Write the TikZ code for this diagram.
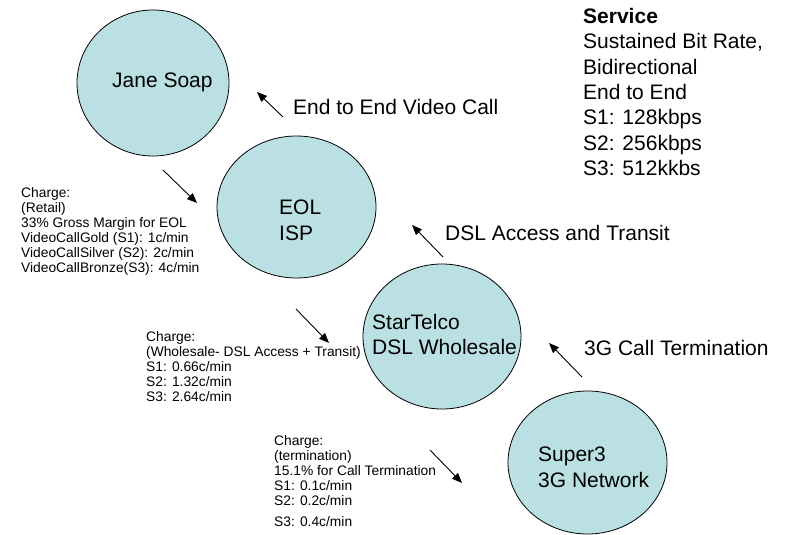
\documentclass[tikz,border=0pt]{standalone}
\usepackage{fontspec}
\setmainfont{Liberation Sans}
\usetikzlibrary{arrows.meta,shapes.geometric}
\definecolor{partyfill}{RGB}{187,224,227}

\tikzset{
  party/.style={ellipse, draw=black, line width=0.8bp, fill=partyfill,
                inner sep=0pt},
  bigtext/.style={anchor=north west, inner sep=0pt, align=left,
                  font=\fontsize{21bp}{25.5bp}\selectfont},
  linetext/.style={anchor=base west, inner sep=0pt,
                   font=\fontsize{21bp}{25.5bp}\selectfont},
  smalltext/.style={anchor=north west, inner sep=0pt, align=left,
                    font=\fontsize{13.8bp}{15bp}\selectfont},
  flow/.style={line width=0.9bp, -{Triangle[length=10bp,width=8bp]}}
}

\begin{document}
\begin{tikzpicture}[x=1bp,y=-1bp]
  \useasboundingbox (0,0) rectangle (786,535);

  % parties in the value chain
  \node[party, minimum width=152bp, minimum height=146bp] (jane)  at (153,83)    {};
  \node[party, minimum width=159bp, minimum height=142bp] (eol)   at (296.5,207) {};
  \node[party, minimum width=158bp, minimum height=145bp] (star)  at (442,336.5) {};
  \node[party, minimum width=159bp, minimum height=143bp] (super) at (587.5,462.5) {};

  % party names
  \node[bigtext] (janename)  at (112,72.9) {Jane Soap};
  \node[bigtext, font=\fontsize{21bp}{26bp}\selectfont] (eolname) at (279,199.9) {EOL\\ISP};
  \node[bigtext, font=\fontsize{21bp}{25bp}\selectfont] (starname) at (372,313.9) {StarTelco\\DSL Wholesale};
  \node[bigtext, font=\fontsize{21bp}{26bp}\selectfont] (supername) at (538,446.9) {Super3\\3G Network};

  % service description
  \node[bigtext, font=\fontsize{21bp}{25.3bp}\selectfont] (service) at (583,8.2)
    {\textbf{Service}\\Sustained Bit Rate,\\Bidirectional\\End to End\\S1: 128kbps\\S2: 256kbps\\S3: 512kkbs};

  % upstream service labels
  \node[linetext] (videolbl) at (293,115) {End to End Video Call};
  \node[linetext] (dsllbl)   at (445,241) {DSL Access and Transit};
  \node[linetext] (termlbl)  at (584,355) {3G Call Termination};

  % charges
  \node[smalltext] (retail) at (21,187.3)
    {Charge:\\(Retail)\\33\% Gross Margin for EOL\\VideoCallGold (S1): 1c/min\\VideoCallSilver (S2): 2c/min\\VideoCallBronze(S3): 4c/min};
  \node[smalltext] (wholesale) at (146,331)
    {Charge:\\(Wholesale- DSL Access + Transit)\\S1: 0.66c/min\\S2: 1.32c/min\\S3: 2.64c/min};
  \node[smalltext] (termination) at (274,435)
    {Charge:\\(termination)\\15.1\% for Call Termination\\S1: 0.1c/min\\S2: 0.2c/min\\[6bp]S3: 0.4c/min};

  % arrow end points
  \coordinate (v1) at (283,117); \coordinate (v2) at (257,92);
  \coordinate (r1) at (163,170); \coordinate (r2) at (197,203);
  \coordinate (d1) at (443,257); \coordinate (d2) at (412,225);
  \coordinate (w1) at (296,309); \coordinate (w2) at (329,343);
  \coordinate (g1) at (582,377); \coordinate (g2) at (549,343);
  \coordinate (t1) at (430,450); \coordinate (t2) at (462,483);

  % service flows upstream, charges flow downstream
  \draw[flow] (v1) -- (v2);
  \draw[flow] (r1) -- (r2);
  \draw[flow] (d1) -- (d2);
  \draw[flow] (w1) -- (w2);
  \draw[flow] (g1) -- (g2);
  \draw[flow] (t1) -- (t2);
\end{tikzpicture}
\end{document}
